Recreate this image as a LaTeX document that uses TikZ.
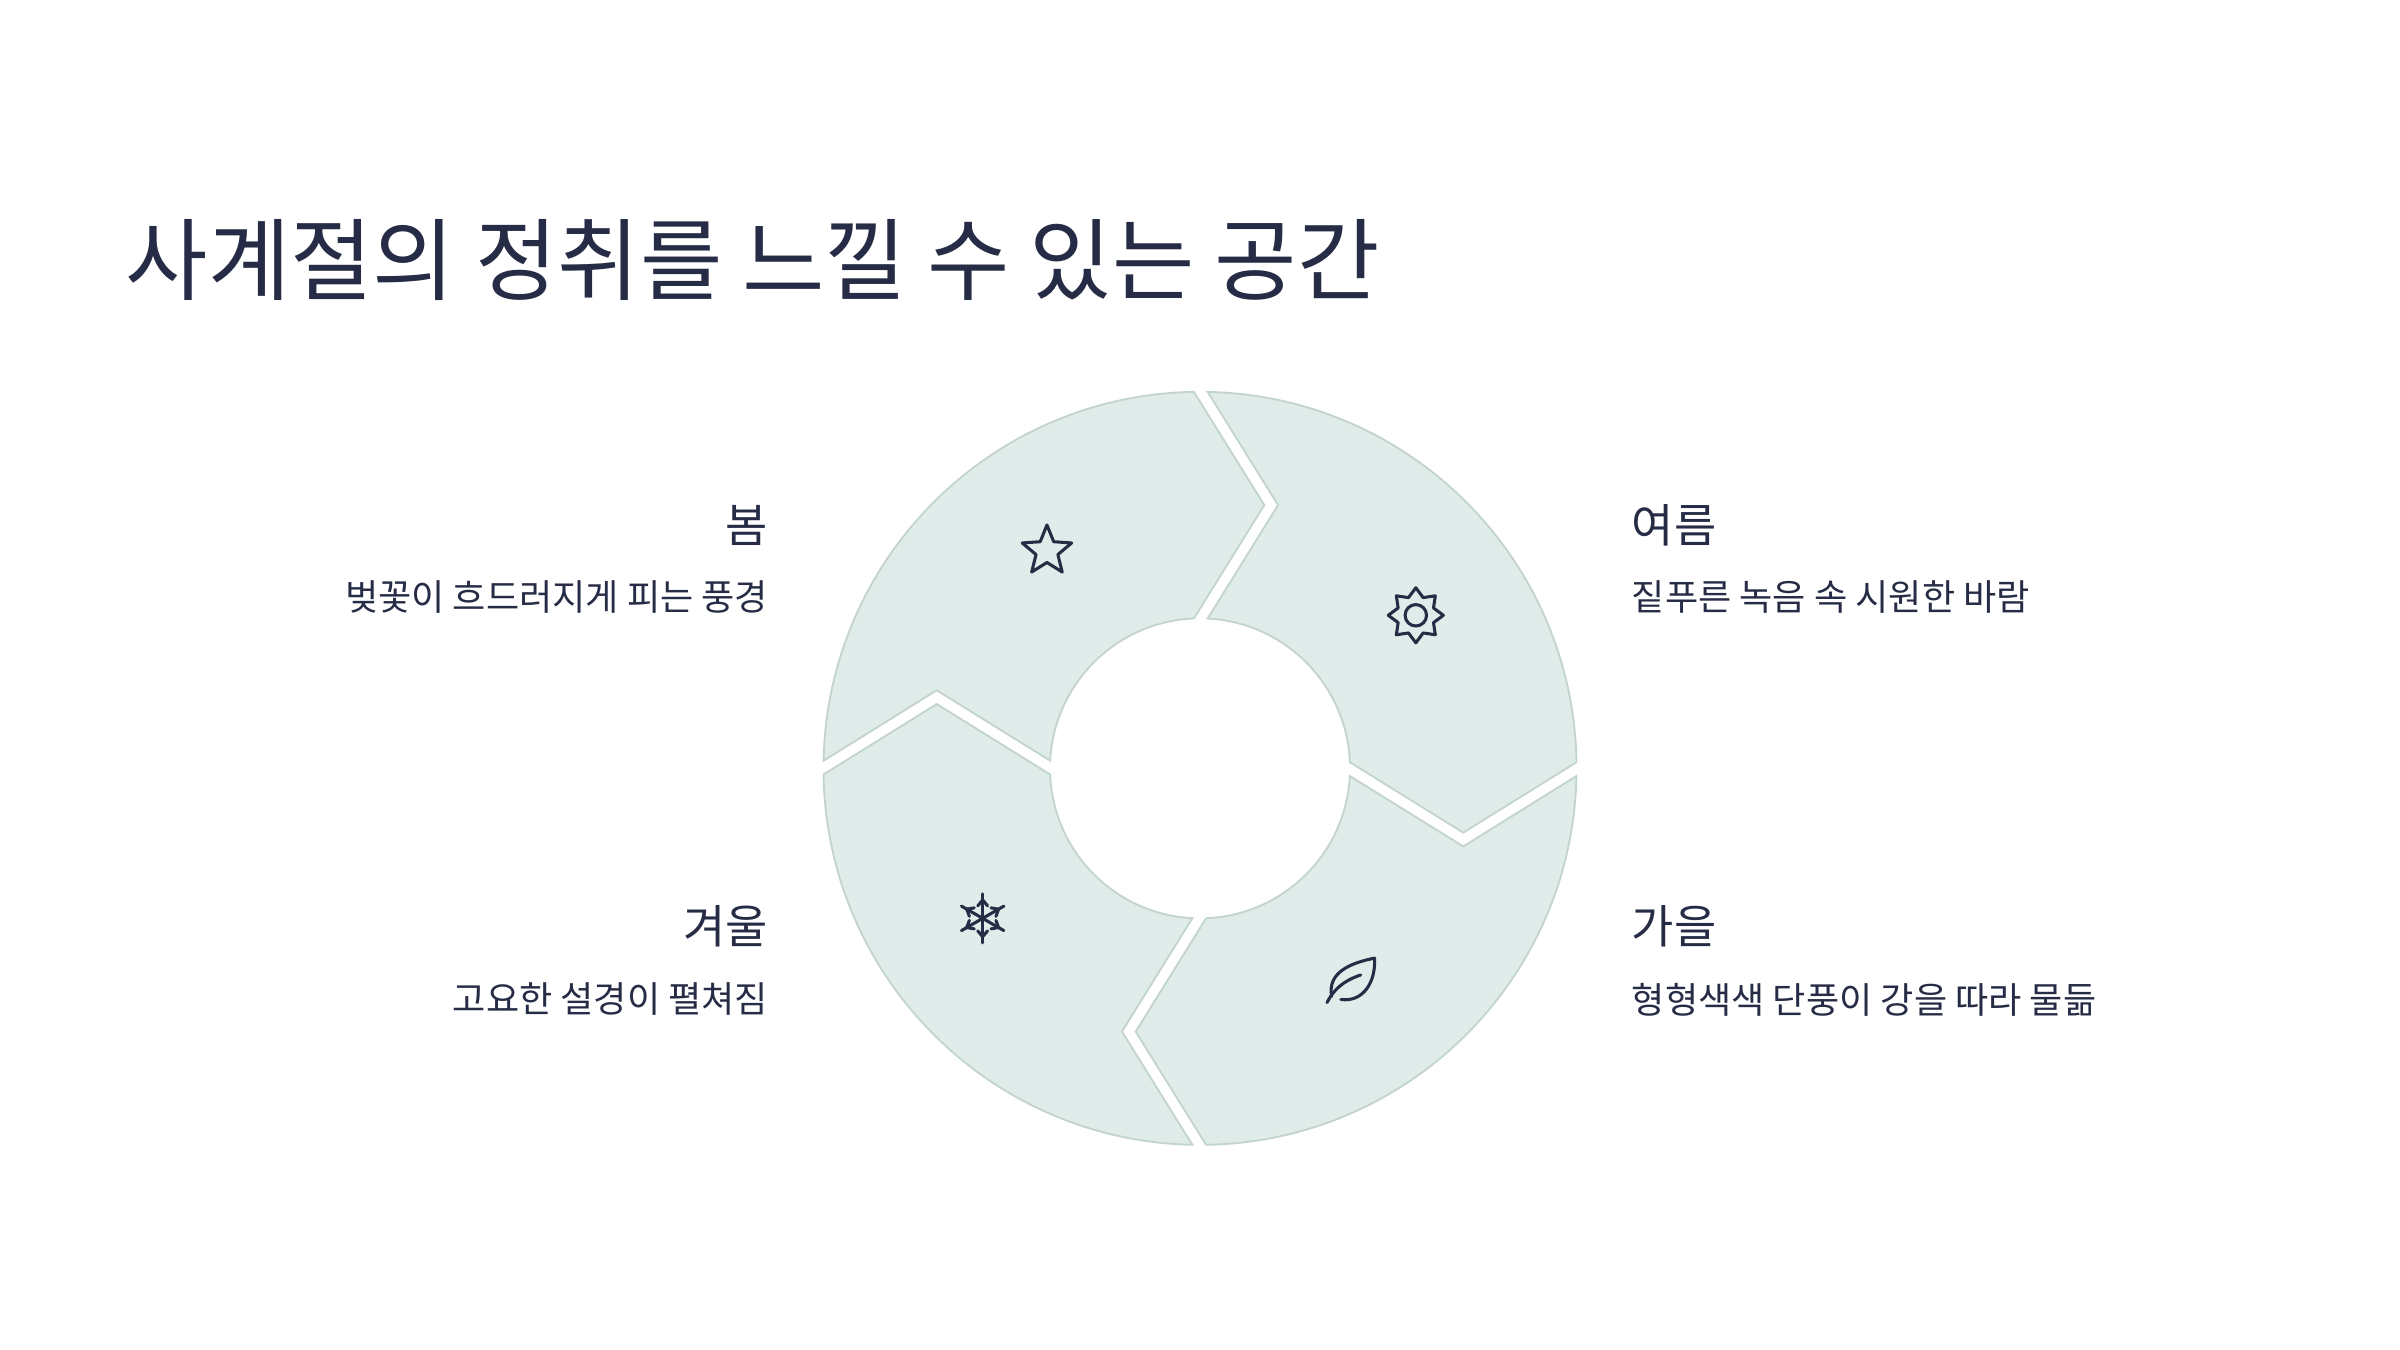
\documentclass[tikz,border=0pt]{standalone}
\usepackage{fontspec}
\setmainfont{Noto Sans CJK KR}
\begin{document}
\begin{tikzpicture}[x=1pt,y=1pt,
  seg/.style={fill=segfill,draw=segline,line width=1.2pt},
  icon/.style={draw=ink,line width=2pt,line join=round,line cap=round},
  lab/.style={text=ink,font=\fontsize{30}{36}\selectfont,inner sep=0},
  desc/.style={text=ink,font=\fontsize{23.6}{28}\selectfont,inner sep=0}]
\definecolor{segfill}{HTML}{E0ECE9}
\definecolor{segline}{HTML}{C3D4CE}
\definecolor{ink}{HTML}{262C45}
\useasboundingbox[fill=white] (0,0) rectangle (1568,882);
\node[anchor=base west,text=ink,font=\fontsize{58.5}{70}\selectfont,inner sep=0] (title) at (82,690) {사계절의 정취를 느낄 수 있는 공간};
\begin{scope}[shift={(784,380)}]
\foreach \r/\n in {0/spring,-90/summer,-180/autumn,90/winter}{
 \begin{scope}[rotate=\r]
  \path[seg] (178.835:246) arc[start angle=178.835,end angle=90.93,radius=246] -- (42,172) -- (92.34:98) arc[start angle=92.34,end angle=177.08,radius=98] -- (-172,51) -- cycle;
 \end{scope}}
% star
\begin{scope}[shift={(-100,142)}]
 \draw[icon] (90:17) \foreach \a in {1,...,9}{ -- ({90+36*\a}:{mod(\a,2)==1?7.5:17})} -- cycle;
\end{scope}
% sun
\begin{scope}[shift={(141,100)}]
 \draw[icon] (90:18) \foreach \a in {1,...,15}{ -- ({90+22.5*\a}:{mod(\a,2)==1?12.5:18})} -- cycle;
 \draw[icon] (0,0) circle (7);
\end{scope}
% leaf
\begin{scope}[shift={(99,-139)}]
 \draw[icon] (-16,-14) .. controls (-10,-2) and (0,2) .. (6,4);
 \draw[icon] (-13,-10) .. controls (-16,6) and (0,12) .. (15,15) .. controls (16,0) and (8,-14) .. (-7,-12);
\end{scope}
% snowflake
\begin{scope}[shift={(-142,-98)}]
 \foreach \a in {90,30,150}{
  \draw[icon] ({\a+180}:16) -- (\a:16);
  \draw[icon] (\a:12) -- ++({\a+140}:5) (\a:12) -- ++({\a-140}:5);
  \draw[icon] ({\a+180}:12) -- ++({\a+40}:5) ({\a+180}:12) -- ++({\a-40}:5);}
\end{scope}
\end{scope}
\node[lab,anchor=east] (spring) at (502,539) {봄};
\node[desc,anchor=east] (springd) at (502,492) {벚꽃이 흐드러지게 피는 풍경};
\node[lab,anchor=west] (summer) at (1066,539) {여름};
\node[desc,anchor=west] (summerd) at (1066,492) {짙푸른 녹음 속 시원한 바람};
\node[lab,anchor=east] (winter) at (502,277) {겨울};
\node[desc,anchor=east] (winterd) at (502,229) {고요한 설경이 펼쳐짐};
\node[lab,anchor=west] (autumn) at (1066,277) {가을};
\node[desc,anchor=west] (autumnd) at (1066,229) {형형색색 단풍이 강을 따라 물듦};
\end{tikzpicture}
\end{document}
